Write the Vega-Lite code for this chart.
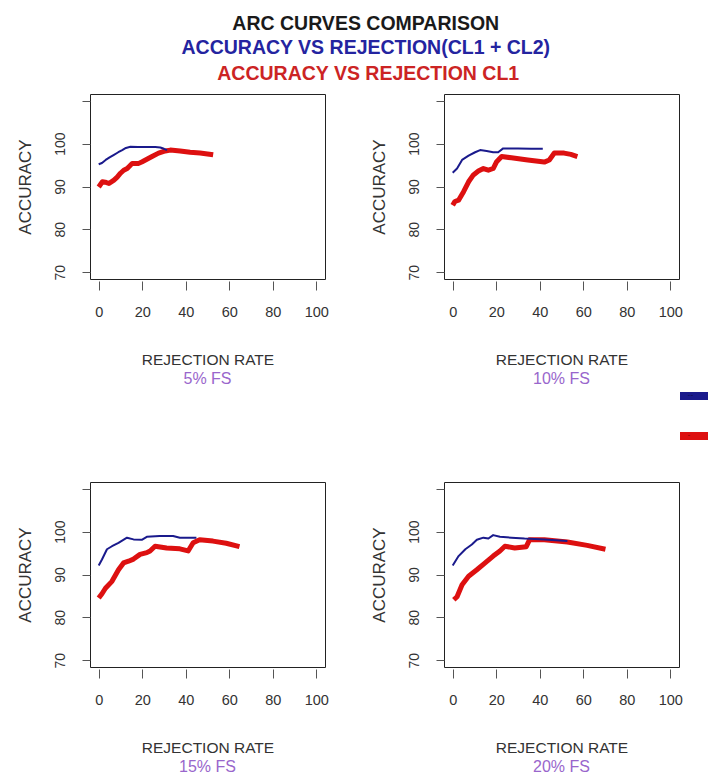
{
  "$schema": "https://vega.github.io/schema/vega-lite/v6.json",
  "background": "white",
  "padding": {"left": 15, "top": 13, "right": 0, "bottom": 0},
  "data": {"values": [
    {"panel": "5% FS", "series": "CL1 + CL2", "x": 0, "y": 95.2},
    {"panel": "5% FS", "series": "CL1 + CL2", "x": 1.5, "y": 95.5},
    {"panel": "5% FS", "series": "CL1 + CL2", "x": 3.2, "y": 96.2},
    {"panel": "5% FS", "series": "CL1 + CL2", "x": 5, "y": 96.8},
    {"panel": "5% FS", "series": "CL1 + CL2", "x": 7, "y": 97.4},
    {"panel": "5% FS", "series": "CL1 + CL2", "x": 9, "y": 98},
    {"panel": "5% FS", "series": "CL1 + CL2", "x": 10.8, "y": 98.5},
    {"panel": "5% FS", "series": "CL1 + CL2", "x": 12.5, "y": 99},
    {"panel": "5% FS", "series": "CL1 + CL2", "x": 14.6, "y": 99.3},
    {"panel": "5% FS", "series": "CL1 + CL2", "x": 18, "y": 99.2},
    {"panel": "5% FS", "series": "CL1 + CL2", "x": 22, "y": 99.2},
    {"panel": "5% FS", "series": "CL1 + CL2", "x": 26, "y": 99.2},
    {"panel": "5% FS", "series": "CL1 + CL2", "x": 28.3, "y": 99.1},
    {"panel": "5% FS", "series": "CL1 + CL2", "x": 30, "y": 98.8},
    {"panel": "5% FS", "series": "CL1 + CL2", "x": 31.4, "y": 98.5},
    {"panel": "5% FS", "series": "CL1", "x": 0, "y": 89.9},
    {"panel": "5% FS", "series": "CL1", "x": 1.7, "y": 91.1},
    {"panel": "5% FS", "series": "CL1", "x": 3, "y": 91},
    {"panel": "5% FS", "series": "CL1", "x": 4.7, "y": 90.7},
    {"panel": "5% FS", "series": "CL1", "x": 7, "y": 91.5},
    {"panel": "5% FS", "series": "CL1", "x": 8.5, "y": 92.2},
    {"panel": "5% FS", "series": "CL1", "x": 10, "y": 93.1},
    {"panel": "5% FS", "series": "CL1", "x": 11.5, "y": 93.8},
    {"panel": "5% FS", "series": "CL1", "x": 13.1, "y": 94.2},
    {"panel": "5% FS", "series": "CL1", "x": 15.4, "y": 95.4},
    {"panel": "5% FS", "series": "CL1", "x": 18.4, "y": 95.4},
    {"panel": "5% FS", "series": "CL1", "x": 20, "y": 95.8},
    {"panel": "5% FS", "series": "CL1", "x": 21.5, "y": 96.2},
    {"panel": "5% FS", "series": "CL1", "x": 24.5, "y": 97},
    {"panel": "5% FS", "series": "CL1", "x": 27.5, "y": 97.8},
    {"panel": "5% FS", "series": "CL1", "x": 30.6, "y": 98.3},
    {"panel": "5% FS", "series": "CL1", "x": 32.9, "y": 98.5},
    {"panel": "5% FS", "series": "CL1", "x": 37.4, "y": 98.3},
    {"panel": "5% FS", "series": "CL1", "x": 42, "y": 98},
    {"panel": "5% FS", "series": "CL1", "x": 46.6, "y": 97.8},
    {"panel": "5% FS", "series": "CL1", "x": 50, "y": 97.6},
    {"panel": "5% FS", "series": "CL1", "x": 52.6, "y": 97.4},
    {"panel": "10% FS", "series": "CL1 + CL2", "x": 0, "y": 93.2},
    {"panel": "10% FS", "series": "CL1 + CL2", "x": 2, "y": 94.2},
    {"panel": "10% FS", "series": "CL1 + CL2", "x": 4.3, "y": 96.2},
    {"panel": "10% FS", "series": "CL1 + CL2", "x": 7.3, "y": 97.2},
    {"panel": "10% FS", "series": "CL1 + CL2", "x": 10.3, "y": 98},
    {"panel": "10% FS", "series": "CL1 + CL2", "x": 12.6, "y": 98.5},
    {"panel": "10% FS", "series": "CL1 + CL2", "x": 15.6, "y": 98.3},
    {"panel": "10% FS", "series": "CL1 + CL2", "x": 18.6, "y": 98},
    {"panel": "10% FS", "series": "CL1 + CL2", "x": 20.9, "y": 98},
    {"panel": "10% FS", "series": "CL1 + CL2", "x": 23.2, "y": 98.9},
    {"panel": "10% FS", "series": "CL1 + CL2", "x": 30, "y": 98.9},
    {"panel": "10% FS", "series": "CL1 + CL2", "x": 36, "y": 98.8},
    {"panel": "10% FS", "series": "CL1 + CL2", "x": 41.4, "y": 98.8},
    {"panel": "10% FS", "series": "CL1", "x": 0, "y": 85.6},
    {"panel": "10% FS", "series": "CL1", "x": 1, "y": 86.5},
    {"panel": "10% FS", "series": "CL1", "x": 2.7, "y": 86.8},
    {"panel": "10% FS", "series": "CL1", "x": 5, "y": 88.8},
    {"panel": "10% FS", "series": "CL1", "x": 7.3, "y": 91.1},
    {"panel": "10% FS", "series": "CL1", "x": 9.5, "y": 92.7},
    {"panel": "10% FS", "series": "CL1", "x": 11.8, "y": 93.6},
    {"panel": "10% FS", "series": "CL1", "x": 14.1, "y": 94.2},
    {"panel": "10% FS", "series": "CL1", "x": 16.4, "y": 93.8},
    {"panel": "10% FS", "series": "CL1", "x": 18.6, "y": 94.2},
    {"panel": "10% FS", "series": "CL1", "x": 20.2, "y": 95.8},
    {"panel": "10% FS", "series": "CL1", "x": 22.5, "y": 97},
    {"panel": "10% FS", "series": "CL1", "x": 27, "y": 96.7},
    {"panel": "10% FS", "series": "CL1", "x": 34.5, "y": 96.2},
    {"panel": "10% FS", "series": "CL1", "x": 42.1, "y": 95.7},
    {"panel": "10% FS", "series": "CL1", "x": 44.4, "y": 96.2},
    {"panel": "10% FS", "series": "CL1", "x": 46.7, "y": 97.8},
    {"panel": "10% FS", "series": "CL1", "x": 51.2, "y": 97.8},
    {"panel": "10% FS", "series": "CL1", "x": 54.3, "y": 97.5},
    {"panel": "10% FS", "series": "CL1", "x": 57.3, "y": 97},
    {"panel": "15% FS", "series": "CL1 + CL2", "x": 0, "y": 92.1},
    {"panel": "15% FS", "series": "CL1 + CL2", "x": 1.5, "y": 93.5},
    {"panel": "15% FS", "series": "CL1 + CL2", "x": 3.8, "y": 95.9},
    {"panel": "15% FS", "series": "CL1 + CL2", "x": 6.1, "y": 96.6},
    {"panel": "15% FS", "series": "CL1 + CL2", "x": 9.1, "y": 97.4},
    {"panel": "15% FS", "series": "CL1 + CL2", "x": 13, "y": 98.6},
    {"panel": "15% FS", "series": "CL1 + CL2", "x": 16, "y": 98.2},
    {"panel": "15% FS", "series": "CL1 + CL2", "x": 19.8, "y": 98.1},
    {"panel": "15% FS", "series": "CL1 + CL2", "x": 22.1, "y": 98.8},
    {"panel": "15% FS", "series": "CL1 + CL2", "x": 28, "y": 99},
    {"panel": "15% FS", "series": "CL1 + CL2", "x": 34.2, "y": 99},
    {"panel": "15% FS", "series": "CL1 + CL2", "x": 37.3, "y": 98.6},
    {"panel": "15% FS", "series": "CL1 + CL2", "x": 44.9, "y": 98.6},
    {"panel": "15% FS", "series": "CL1", "x": 0, "y": 84.5},
    {"panel": "15% FS", "series": "CL1", "x": 1.5, "y": 85.5},
    {"panel": "15% FS", "series": "CL1", "x": 3.1, "y": 86.8},
    {"panel": "15% FS", "series": "CL1", "x": 6.1, "y": 88.4},
    {"panel": "15% FS", "series": "CL1", "x": 9.1, "y": 91.1},
    {"panel": "15% FS", "series": "CL1", "x": 11.4, "y": 92.7},
    {"panel": "15% FS", "series": "CL1", "x": 13.7, "y": 93.1},
    {"panel": "15% FS", "series": "CL1", "x": 16, "y": 93.6},
    {"panel": "15% FS", "series": "CL1", "x": 19, "y": 94.7},
    {"panel": "15% FS", "series": "CL1", "x": 22.1, "y": 95.1},
    {"panel": "15% FS", "series": "CL1", "x": 23.6, "y": 95.5},
    {"panel": "15% FS", "series": "CL1", "x": 25.9, "y": 96.6},
    {"panel": "15% FS", "series": "CL1", "x": 31.2, "y": 96.2},
    {"panel": "15% FS", "series": "CL1", "x": 37.3, "y": 96},
    {"panel": "15% FS", "series": "CL1", "x": 41.1, "y": 95.5},
    {"panel": "15% FS", "series": "CL1", "x": 43.4, "y": 97.4},
    {"panel": "15% FS", "series": "CL1", "x": 46.4, "y": 98.1},
    {"panel": "15% FS", "series": "CL1", "x": 52.5, "y": 97.8},
    {"panel": "15% FS", "series": "CL1", "x": 58.6, "y": 97.3},
    {"panel": "15% FS", "series": "CL1", "x": 64.7, "y": 96.5},
    {"panel": "20% FS", "series": "CL1 + CL2", "x": 0, "y": 92.1},
    {"panel": "20% FS", "series": "CL1 + CL2", "x": 2.7, "y": 94.3},
    {"panel": "20% FS", "series": "CL1 + CL2", "x": 5.8, "y": 95.9},
    {"panel": "20% FS", "series": "CL1 + CL2", "x": 8.8, "y": 97},
    {"panel": "20% FS", "series": "CL1 + CL2", "x": 11.1, "y": 98.1},
    {"panel": "20% FS", "series": "CL1 + CL2", "x": 14.1, "y": 98.6},
    {"panel": "20% FS", "series": "CL1 + CL2", "x": 16.4, "y": 98.4},
    {"panel": "20% FS", "series": "CL1 + CL2", "x": 18.6, "y": 99.2},
    {"panel": "20% FS", "series": "CL1 + CL2", "x": 21.7, "y": 98.8},
    {"panel": "20% FS", "series": "CL1 + CL2", "x": 27, "y": 98.6},
    {"panel": "20% FS", "series": "CL1 + CL2", "x": 33, "y": 98.4},
    {"panel": "20% FS", "series": "CL1 + CL2", "x": 42.1, "y": 98.2},
    {"panel": "20% FS", "series": "CL1 + CL2", "x": 52.7, "y": 97.8},
    {"panel": "20% FS", "series": "CL1", "x": 0.5, "y": 84.1},
    {"panel": "20% FS", "series": "CL1", "x": 2, "y": 84.8},
    {"panel": "20% FS", "series": "CL1", "x": 4.3, "y": 87.6},
    {"panel": "20% FS", "series": "CL1", "x": 7.3, "y": 89.6},
    {"panel": "20% FS", "series": "CL1", "x": 11.1, "y": 91.1},
    {"panel": "20% FS", "series": "CL1", "x": 14.9, "y": 92.7},
    {"panel": "20% FS", "series": "CL1", "x": 18.6, "y": 94.3},
    {"panel": "20% FS", "series": "CL1", "x": 21.7, "y": 95.5},
    {"panel": "20% FS", "series": "CL1", "x": 24, "y": 96.6},
    {"panel": "20% FS", "series": "CL1", "x": 28.5, "y": 96.2},
    {"panel": "20% FS", "series": "CL1", "x": 33.8, "y": 96.5},
    {"panel": "20% FS", "series": "CL1", "x": 35.3, "y": 98.1},
    {"panel": "20% FS", "series": "CL1", "x": 42.1, "y": 98.1},
    {"panel": "20% FS", "series": "CL1", "x": 52.7, "y": 97.6},
    {"panel": "20% FS", "series": "CL1", "x": 61.8, "y": 96.8},
    {"panel": "20% FS", "series": "CL1", "x": 70.2, "y": 95.9}
  ]},
  "title": {
    "text": "ARC CURVES COMPARISON",
    "subtitle": "ACCURACY VS REJECTION(CL1 + CL2)",
    "anchor": "middle",
    "font": "Liberation Sans",
    "fontSize": 19.5,
    "fontWeight": "bold",
    "color": "#1a1a1a",
    "subtitleFont": "Liberation Sans",
    "subtitleFontSize": 19.5,
    "subtitleFontWeight": "bold",
    "subtitleColor": "#2424a0",
    "subtitlePadding": 5,
    "offset": 5,
    "dx": 2
  },
  "spacing": 93,
  "vconcat": [
    {
      "title": {"text": "ACCURACY VS REJECTION CL1", "anchor": "middle", "font": "Liberation Sans", "fontSize": 19.5, "fontWeight": "bold", "color": "#cc2424", "offset": 9.5, "dx": 19},
      "spacing": 40,
      "hconcat": [
        {
          "width": 235, "height": 185,
          "title": {"text": "5% FS", "orient": "bottom"},
          "transform": [{"filter": "datum.panel === '5% FS'"}],
          "layer": [
            {"transform": [{"filter": "datum.series === 'CL1'"}], "mark": {"type": "line", "strokeWidth": 5},
             "encoding": {"x": {"field": "x", "type": "quantitative", "scale": {"domain": [-4, 104], "nice": false, "zero": false}, "axis": {"title": "REJECTION RATE"}}, "y": {"field": "y", "type": "quantitative", "scale": {"domain": [68.4, 111.6], "nice": false, "zero": false}, "axis": {"title": "ACCURACY"}},
               "color": {"field": "series", "type": "nominal", "scale": {"domain": ["CL1 + CL2", "CL1"], "range": ["#1a1a8c", "#dd1010"]}}}},
            {"transform": [{"filter": "datum.series === 'CL1 + CL2'"}], "mark": {"type": "line", "strokeWidth": 2},
             "encoding": {"x": {"field": "x", "type": "quantitative"}, "y": {"field": "y", "type": "quantitative"}, "color": {"field": "series", "type": "nominal"}}}
          ]
        },
        {
          "width": 235, "height": 185,
          "title": {"text": "10% FS", "orient": "bottom"},
          "transform": [{"filter": "datum.panel === '10% FS'"}],
          "layer": [
            {"transform": [{"filter": "datum.series === 'CL1'"}], "mark": {"type": "line", "strokeWidth": 5},
             "encoding": {"x": {"field": "x", "type": "quantitative", "scale": {"domain": [-4, 104], "nice": false, "zero": false}, "axis": {"title": "REJECTION RATE"}}, "y": {"field": "y", "type": "quantitative", "scale": {"domain": [68.4, 111.6], "nice": false, "zero": false}, "axis": {"title": "ACCURACY"}}, "color": {"field": "series", "type": "nominal"}}},
            {"transform": [{"filter": "datum.series === 'CL1 + CL2'"}], "mark": {"type": "line", "strokeWidth": 2},
             "encoding": {"x": {"field": "x", "type": "quantitative"}, "y": {"field": "y", "type": "quantitative"}, "color": {"field": "series", "type": "nominal"}}}
          ]
        }
      ]
    },
    {
      "spacing": 40,
      "hconcat": [
        {
          "width": 235, "height": 185,
          "title": {"text": "15% FS", "orient": "bottom"},
          "transform": [{"filter": "datum.panel === '15% FS'"}],
          "layer": [
            {"transform": [{"filter": "datum.series === 'CL1'"}], "mark": {"type": "line", "strokeWidth": 5},
             "encoding": {"x": {"field": "x", "type": "quantitative", "scale": {"domain": [-4, 104], "nice": false, "zero": false}, "axis": {"title": "REJECTION RATE"}}, "y": {"field": "y", "type": "quantitative", "scale": {"domain": [68.4, 111.6], "nice": false, "zero": false}, "axis": {"title": "ACCURACY"}}, "color": {"field": "series", "type": "nominal"}}},
            {"transform": [{"filter": "datum.series === 'CL1 + CL2'"}], "mark": {"type": "line", "strokeWidth": 2},
             "encoding": {"x": {"field": "x", "type": "quantitative"}, "y": {"field": "y", "type": "quantitative"}, "color": {"field": "series", "type": "nominal"}}}
          ]
        },
        {
          "width": 235, "height": 185,
          "title": {"text": "20% FS", "orient": "bottom"},
          "transform": [{"filter": "datum.panel === '20% FS'"}],
          "layer": [
            {"transform": [{"filter": "datum.series === 'CL1'"}], "mark": {"type": "line", "strokeWidth": 5},
             "encoding": {"x": {"field": "x", "type": "quantitative", "scale": {"domain": [-4, 104], "nice": false, "zero": false}, "axis": {"title": "REJECTION RATE"}}, "y": {"field": "y", "type": "quantitative", "scale": {"domain": [68.4, 111.6], "nice": false, "zero": false}, "axis": {"title": "ACCURACY"}}, "color": {"field": "series", "type": "nominal"}}},
            {"transform": [{"filter": "datum.series === 'CL1 + CL2'"}], "mark": {"type": "line", "strokeWidth": 2},
             "encoding": {"x": {"field": "x", "type": "quantitative"}, "y": {"field": "y", "type": "quantitative"}, "color": {"field": "series", "type": "nominal"}}}
          ]
        }
      ]
    }
  ],
  "config": {
    "view": {"stroke": "#222222", "strokeWidth": 1},
    "line": {"strokeCap": "butt", "strokeJoin": "round"},
    "axisX": {
      "values": [0, 20, 40, 60, 80, 100],
      "domain": false, "grid": false,
      "tickSize": 9, "tickColor": "#555555", "tickWidth": 1, "offset": 2,
      "labelFont": "Liberation Sans", "labelFontSize": 14.5, "labelColor": "#333333", "labelPadding": 15,
      "titleFont": "Liberation Sans", "titleFontSize": 15.5, "titleFontWeight": "normal", "titleColor": "#333333", "titlePadding": 34
    },
    "axisY": {
      "values": [70, 80, 90, 100, 110],
      "labelExpr": "datum.value == 110 ? '' : datum.label",
      "domain": false, "grid": false,
      "tickSize": 8, "tickColor": "#555555", "tickWidth": 1,
      "labelAngle": 270, "labelAlign": "center", "labelBaseline": "bottom",
      "labelFont": "Liberation Sans", "labelFontSize": 14, "labelColor": "#333333", "labelPadding": 15,
      "titleFont": "Liberation Sans", "titleFontSize": 17, "titleFontWeight": "normal", "titleColor": "#333333", "titlePadding": 19
    },
    "title": {"font": "Liberation Sans", "fontSize": 16, "fontWeight": "normal", "color": "#9966cc", "offset": 3},
    "legend": {
      "orient": "none", "legendX": 586, "legendY": 284,
      "title": null, "labelExpr": "''", "labelFontSize": 1, "labelOffset": -24, "padding": 0, "offset": 0,
      "symbolType": "stroke", "symbolSize": 784, "symbolOffset": 0, "rowPadding": 18, "symbolStrokeWidth": 8
    }
  }
}
